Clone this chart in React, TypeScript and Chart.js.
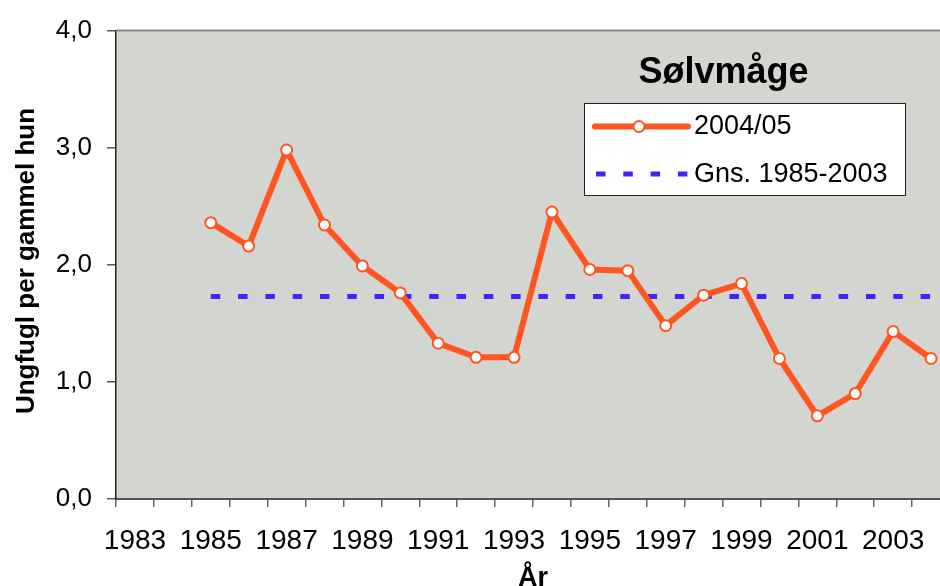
import React, { useEffect, useRef } from "react";
import { Chart, registerables } from "chart.js";

Chart.register(...registerables);

const years: string[] = [
  "1983", "1984", "1985", "1986", "1987", "1988", "1989", "1990", "1991", "1992", "1993",
  "1994", "1995", "1996", "1997", "1998", "1999", "2000", "2001", "2002", "2003", "2004",
];
const series2004: (number | null)[] = [
  null, null, 2.36, 2.16, 2.98, 2.34, 1.99, 1.76, 1.33, 1.21, 1.21,
  2.45, 1.96, 1.95, 1.48, 1.74, 1.84, 1.2, 0.71, 0.9, 1.43, 1.2,
];
const avgValue = 1.73;
const avgSeries: (number | null)[] = years.map((y) => (Number(y) >= 1985 ? avgValue : null));
const seriesLabel = "2004/05";
const avgLabel = "Gns. 1985-2003";
const chartTitle = "Sølvmåge";
const yTitle = "Ungfugl per gammel hun";
const xTitle = "År";

const ORANGE = "#FF5621";
const BLUE = "#4422FF";
const FONT = '"Liberation Sans", Arial, sans-serif';

const decorPlugin = {
  id: "decor",
  beforeDraw(chart: any) {
    const { ctx, chartArea } = chart;
    ctx.save();
    ctx.fillStyle = "#D3D5D0";
    ctx.fillRect(chartArea.left, chartArea.top, chartArea.right - chartArea.left, chartArea.bottom - chartArea.top);
    ctx.restore();
  },
  afterDraw(chart: any) {
    const { ctx, chartArea } = chart;
    ctx.save();
    // top border
    ctx.strokeStyle = "#8a8a8a";
    ctx.lineWidth = 2;
    ctx.beginPath();
    ctx.moveTo(chartArea.left, chartArea.top);
    ctx.lineTo(chartArea.right, chartArea.top);
    ctx.stroke();

    // title
    ctx.fillStyle = "#000";
    ctx.font = `bold 36px ${FONT}`;
    ctx.textAlign = "center";
    ctx.textBaseline = "alphabetic";
    ctx.fillText(chartTitle, 723.5, 83);

    // legend box
    const bx = 584, by = 103, bw = 321, bh = 92;
    ctx.fillStyle = "#fff";
    ctx.fillRect(bx, by, bw, bh);
    ctx.strokeStyle = "#222";
    ctx.lineWidth = 1;
    ctx.strokeRect(bx + 0.5, by + 0.5, bw, bh);

    // row 1
    ctx.strokeStyle = ORANGE;
    ctx.lineWidth = 6;
    ctx.lineCap = "round";
    ctx.beginPath();
    ctx.moveTo(595, 126.5);
    ctx.lineTo(688, 126.5);
    ctx.stroke();
    ctx.lineCap = "butt";
    ctx.beginPath();
    ctx.arc(639, 126.5, 5.5, 0, Math.PI * 2);
    ctx.fillStyle = "#fff";
    ctx.fill();
    ctx.lineWidth = 2;
    ctx.stroke();

    // row 2
    ctx.strokeStyle = BLUE;
    ctx.lineWidth = 5;
    ctx.setLineDash([9.5, 17.8]);
    ctx.beginPath();
    ctx.moveTo(596, 174);
    ctx.lineTo(690, 174);
    ctx.stroke();
    ctx.setLineDash([]);

    ctx.fillStyle = "#000";
    ctx.font = `27px ${FONT}`;
    ctx.textAlign = "left";
    ctx.textBaseline = "middle";
    ctx.fillText(seriesLabel, 694, 127);
    ctx.fillText(avgLabel, 694, 175);

    // y title
    ctx.save();
    ctx.translate(34, 261);
    ctx.rotate(-Math.PI / 2);
    ctx.font = `bold 26px ${FONT}`;
    ctx.textAlign = "center";
    ctx.textBaseline = "alphabetic";
    ctx.fillText(yTitle, 0, 0);
    ctx.restore();

    // x title
    ctx.font = `bold 27px ${FONT}`;
    ctx.textAlign = "center";
    ctx.textBaseline = "alphabetic";
    ctx.fillText(xTitle, 533, 586);
    ctx.restore();
  },
};

export default function App() {
  const ref = useRef<HTMLCanvasElement | null>(null);
  useEffect(() => {
    if (!ref.current) return;
    const chart = new Chart(ref.current, {
      type: "line",
      data: {
        labels: years,
        datasets: [
          {
            label: seriesLabel,
            data: series2004,
            borderColor: ORANGE,
            borderWidth: 6,
            pointRadius: 5.5,
            pointBorderWidth: 2,
            pointBackgroundColor: "#fff",
            pointBorderColor: ORANGE,
            tension: 0,
            spanGaps: false,
          },
          {
            label: avgLabel,
            data: avgSeries,
            borderColor: BLUE,
            borderWidth: 5,
            borderDash: [9.5, 17.8],
            borderCapStyle: "butt",
            pointRadius: 0,
            tension: 0,
          },
        ],
      },
      options: {
        responsive: false,
        animation: false,
        devicePixelRatio: 1,
        layout: { padding: { top: 27, right: 10, left: 0, bottom: 0 } },
        plugins: { legend: { display: false }, tooltip: { enabled: false }, title: { display: false } },
        scales: {
          x: {
            type: "category",
            offset: true,
            afterFit: (s: any) => {
              s.height = 87;
            },
            grid: {
              offset: true,
              drawOnChartArea: false,
              tickLength: 8,
              color: "#666",
              lineWidth: 1.5,
            },
            border: { display: true, color: "#555", width: 2 },
            ticks: {
              autoSkip: false,
              maxRotation: 0,
              minRotation: 0,
              padding: 17,
              color: "#000",
              font: { family: FONT, size: 28 },
              callback: (_v: any, i: number) => (i % 2 === 0 ? years[i] : ""),
            },
          },
          y: {
            min: 0,
            max: 4,
            afterFit: (s: any) => {
              s.width = 116;
            },
            grid: { drawOnChartArea: false, tickLength: 9, color: "#555", lineWidth: 1.5 },
            border: { display: true, color: "#222", width: 1.5 },
            ticks: {
              stepSize: 1,
              padding: 15,
              color: "#000",
              font: { family: FONT, size: 26 },
              callback: (v: any) => Number(v).toFixed(1).replace(".", ","),
            },
          },
        },
      },
      plugins: [decorPlugin],
    });
    return () => chart.destroy();
  }, []);
  return (
    <div style={{ position: "fixed", left: 0, top: 0, width: 940, height: 586, overflow: "hidden", background: "#fff" }}>
      <canvas ref={ref} width={960} height={586} style={{ display: "block", width: 960, height: 586 }} />
    </div>
  );
}
